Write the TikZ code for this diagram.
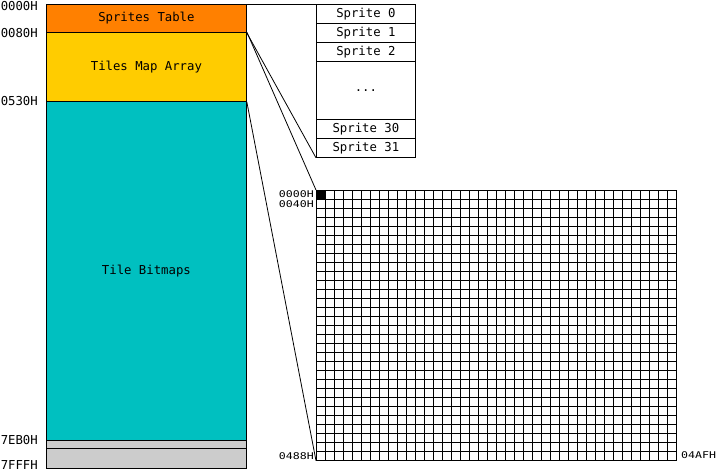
\documentclass[tikz,border=0pt]{standalone}
\usepackage{graphicx}
\usepackage{fontspec}
\setmainfont{DejaVu Sans Mono}

\definecolor{spriteorange}{RGB}{255,128,0}
\definecolor{mapyellow}{RGB}{255,204,0}
\definecolor{bitmapteal}{RGB}{0,192,192}
\definecolor{freegray}{RGB}{204,204,204}

\tikzset{
  memblock/.style={draw, line width=0.8pt, anchor=north west, inner sep=0pt,
    minimum width=200pt, font=\fontsize{12.3}{12.3}\selectfont},
  spriteslot/.style={draw, line width=0.8pt, anchor=north west, inner sep=0pt,
    minimum width=99pt, font=\fontsize{12.3}{12.3}\selectfont},
  addr/.style={inner sep=0pt, font=\fontsize{12.3}{12.3}\selectfont},
  tileaddr/.style={inner sep=0pt, font=\fontsize{11.6}{11.6}\selectfont},
  gridline/.style={line width=0.7pt},
  zoomline/.style={line width=0.8pt},
}
\newcommand{\squash}[1]{\scalebox{1}[0.8]{#1}}

\begin{document}
\begin{tikzpicture}[x=1pt, y=-1pt]
  \useasboundingbox (0, 0) rectangle (718, 471);

  % memory map
  \node[memblock, fill=spriteorange, minimum height=28pt] (sprites) at (46, 4) {Sprites Table};
  \node[memblock, fill=mapyellow, minimum height=69pt] (tilemap) at (46, 32) {Tiles Map Array};
  \node[memblock, fill=bitmapteal, minimum height=339pt] (bitmaps) at (46, 101) {Tile Bitmaps};
  \node[memblock, fill=freegray, minimum height=8pt] (gap) at (46, 440) {};
  \node[memblock, fill=freegray, minimum height=20pt] (tail) at (46, 448) {};

  \node[addr, anchor=east] (a0000) at (38, 6) {0000H};
  \node[addr, anchor=east] (a0080) at (38, 33) {0080H};
  \node[addr, anchor=east] (a0530) at (38, 101) {0530H};
  \node[addr, anchor=east] (a7eb0) at (38, 440) {7EB0H};
  \node[addr, anchor=east] (a7fff) at (38, 465) {7FFFH};

  % sprite table
  \node[spriteslot, minimum height=19pt] (s0) at (316, 4) {Sprite 0};
  \node[spriteslot, minimum height=19pt] (s1) at (316, 23) {Sprite 1};
  \node[spriteslot, minimum height=19pt] (s2) at (316, 42) {Sprite 2};
  \node[spriteslot, minimum height=58pt] (sdots) at (316, 61) {...};
  \node[spriteslot, minimum height=19pt] (s30) at (316, 119) {Sprite 30};
  \node[spriteslot, minimum height=19pt] (s31) at (316, 138) {Sprite 31};

  % tile map grid, 40 x 30
  \node[draw, gridline, anchor=north west, inner sep=0pt,
    minimum width=360pt, minimum height=270pt] (grid) at (316, 190) {};
  \foreach \i in {1,...,39}
    \draw[gridline] (316+9*\i, 190) -- (316+9*\i, 460);
  \foreach \j in {1,...,29}
    \draw[gridline] (316, 190+9*\j) -- (676, 190+9*\j);
  \fill (316, 190) rectangle (325, 199);

  \node[tileaddr, anchor=east] (t0000) at (314, 194.5) {\squash{0000H}};
  \node[tileaddr, anchor=east] (t0040) at (314, 204) {\squash{0040H}};
  \node[tileaddr, anchor=east] (t0488) at (314, 456) {\squash{0488H}};
  \node[tileaddr, anchor=west] (t04af) at (681, 455) {\squash{04AFH}};

  % connectors
  \draw[zoomline] (sprites.north east) -- (s0.north west);
  \draw[zoomline] (sprites.south east) -- (s31.south west);
  \draw[zoomline] (tilemap.north east) -- (grid.north west);
  \draw[zoomline] (tilemap.south east) -- (grid.south west);
\end{tikzpicture}
\end{document}
